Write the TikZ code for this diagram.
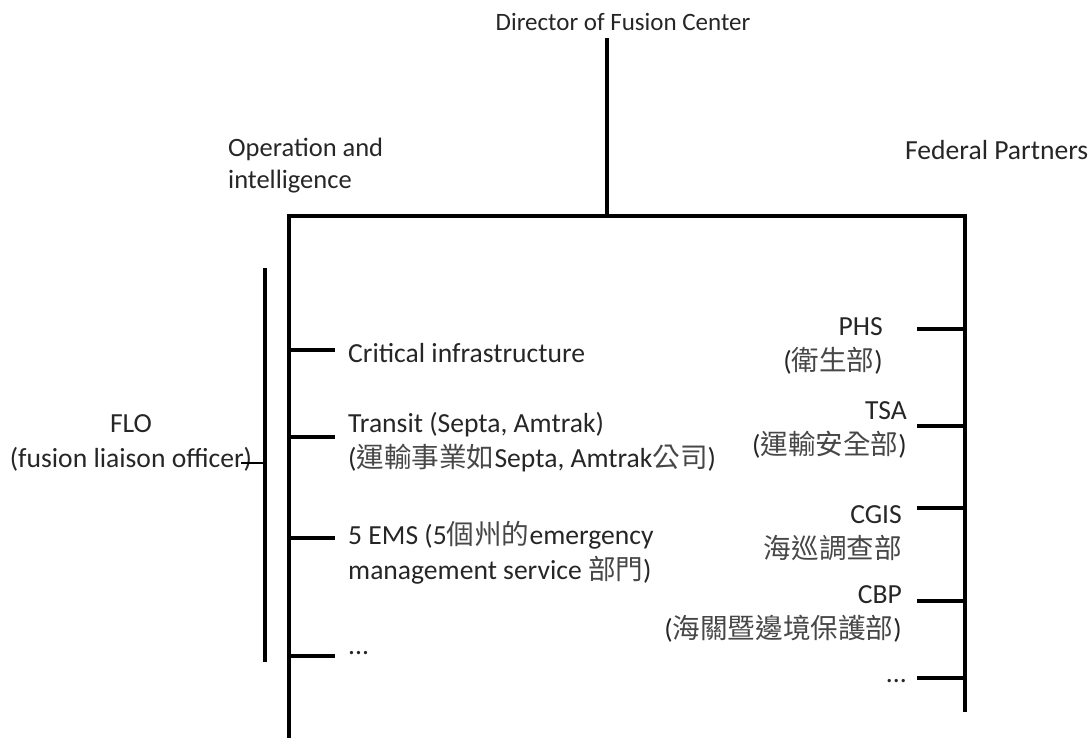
\documentclass[tikz,border=0pt]{standalone}
\usepackage{fontspec}
\setmainfont{Carlito}
\newfontfamily\cjk{Noto Sans CJK TC}
\newcommand{\zh}[1]{{\cjk\color{black!72}#1}}
\usetikzlibrary{positioning}

\begin{document}
\begin{tikzpicture}[x=1pt, y=-1pt,
    bar/.style={line width=4.5pt},
    lbl/.style={inner sep=0pt, text=black!85, font=\fontsize{27.6}{35}\selectfont},
    head/.style={lbl, font=\fontsize{25}{32}\selectfont}]
    \useasboundingbox (0,0) rectangle (1091,738);
    % headings
    \node[head] (dir) at (623,22) {Director of Fusion Center};
    \node[head, align=left, anchor=west, font=\fontsize{26.5}{32}\selectfont] (ops) at (228,166) {Operation and\\intelligence};
    \node[lbl, anchor=west] (fed) at (905,150) {Federal Partners};
    % main tree
    \coordinate (top) at (607,38);
    \coordinate (join) at (607,216);
    \coordinate (opsT) at (289,216);
    \coordinate (fedT) at (965,216);
    \coordinate (opsB) at (289,738);
    \coordinate (fedB) at (965,712);
    \draw[bar] (top) -- (join);
    \draw[bar] (opsB) -- (opsT) -- (fedT) -- (fedB);
    % FLO bracket
    \node[lbl, align=center] (flo) at (131,443) {FLO\\(fusion liaison officer)};
    \coordinate (floT) at (265,268);
    \coordinate (floB) at (265,662);
    \coordinate (floM) at (265,463);
    \coordinate (floE) at (241,463);
    \draw[bar] (floT) -- (floB);
    \draw[line width=2.5pt] (floE) -- (floM);
    % operation branches
    \foreach \n/\y in {crit/350, tran/437, ems/538, more/656} {
        \coordinate (\n L) at (289,\y);
        \coordinate (\n R) at (335,\y);
        \draw[bar] (\n L) -- (\n R);
    }
    \node[lbl, anchor=base west] (crit) at (348,362) {Critical infrastructure};
    \node[lbl, anchor=west, align=left] (tran) at (348,442) {Transit (Septa, Amtrak)\\(\zh{運輸事業如}Septa, Amtrak\zh{公司})};
    \node[lbl, anchor=west, align=left] (ems) at (348,553) {5 EMS (5\zh{個州的}emergency\\management service \zh{部門})};
    \node[lbl, anchor=base west] (more) at (348,654) {...};
    % federal branches
    \foreach \n/\y in {phs/329, tsa/426, cgis/508, cbp/601, etc/678} {
        \coordinate (\n R) at (965,\y);
        \coordinate (\n L) at (917,\y);
        \draw[bar] (\n R) -- (\n L);
    }
    \node[lbl, anchor=east, align=right] (phs) at (883,346) {PHS\\(\zh{衛生部})};
    \node[lbl, anchor=east, align=right] (tsa) at (907,430) {TSA\\(\zh{運輸安全部})};
    \node[lbl, anchor=east, align=right] (cgis) at (902,533) {CGIS\\\zh{海巡調查部}};
    \node[lbl, anchor=east, align=right] (cbp) at (902,614) {CBP\\(\zh{海關暨邊境保護部})};
    \node[lbl, anchor=base east] (etc) at (907,682) {...};
\end{tikzpicture}
\end{document}
